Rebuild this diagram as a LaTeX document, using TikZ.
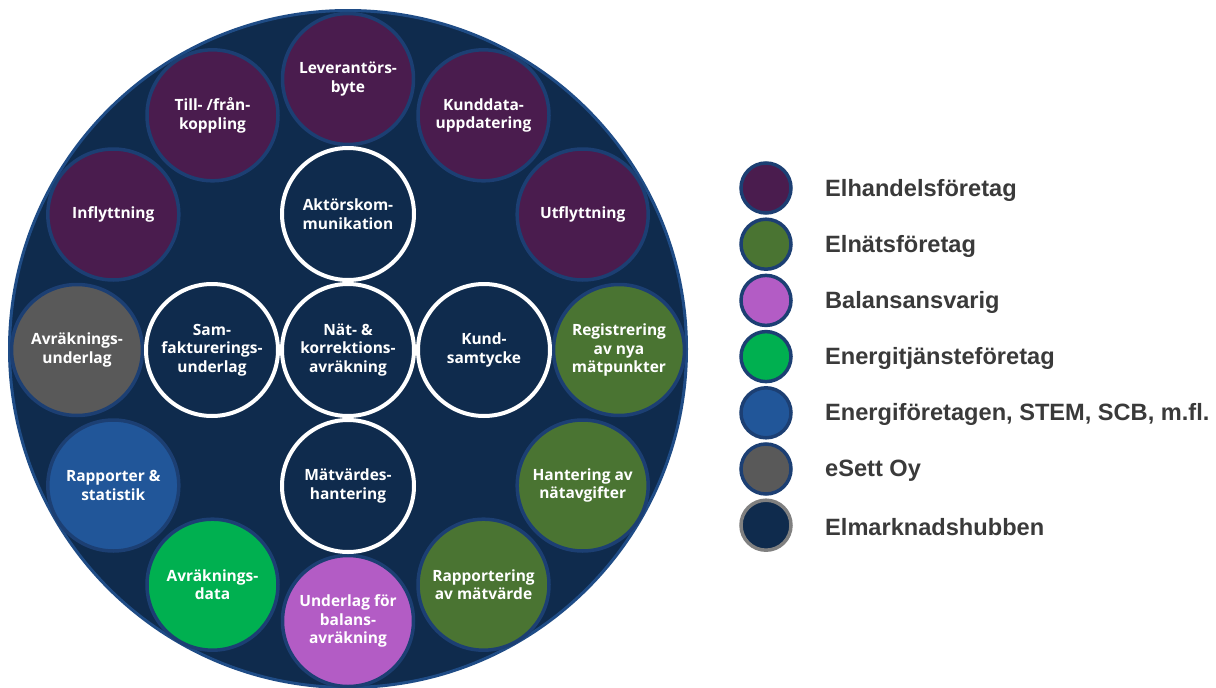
\documentclass[tikz,border=0pt]{standalone}
\usepackage{fontspec}
\setmainfont{Liberation Sans}
\newfontfamily\circfont{Open Sans}
\definecolor{hubfill}{HTML}{0F2B4D}
\definecolor{hubline}{HTML}{1F4C86}
\definecolor{ringline}{HTML}{1C3F73}
\definecolor{cpurple}{HTML}{4A1C4E}
\definecolor{cgreen}{HTML}{4A7432}
\definecolor{cmagenta}{HTML}{B35CC5}
\definecolor{cbright}{HTML}{00B050}
\definecolor{cblue}{HTML}{215699}
\definecolor{cgrey}{HTML}{595959}
\definecolor{legtext}{HTML}{3A3A3A}
\definecolor{leggrey}{HTML}{808080}
\tikzset{
  hub/.style={circle, fill=hubfill, draw=hubline, line width=3pt, minimum size=677pt, inner sep=0pt},
  outer/.style={circle, draw=ringline, line width=3.5pt, minimum size=131pt, inner sep=0pt,
    text=white, align=center, font=\circfont\bfseries\fontsize{15.5}{18.5}\selectfont},
  inner/.style={circle, fill=hubfill, draw=white, line width=4pt, minimum size=132pt, inner sep=0pt,
    text=white, align=center, font=\circfont\bfseries\fontsize{15.5}{18.5}\selectfont},
  legdot/.style={circle, draw=ringline, line width=3.5pt, minimum size=50pt, inner sep=0pt},
  legtxt/.style={anchor=west, yshift=-2pt, text=legtext, font=\bfseries\fontsize{23.6}{26}\selectfont, inner sep=0pt}
}
\begin{document}
\begin{tikzpicture}[x=1pt,y=-1pt]
\useasboundingbox (0,0) rectangle (1216,688);
\fill[white] (0,0) rectangle (1216,688);
\node[hub] (hub) at (348,349) {};
% outer ring
\node[outer, fill=cpurple] (lev) at (348,79) {Leverantörs-\\byte};
\node[outer, fill=cpurple] (kund) at (483.5,115.3) {Kunddata-\\uppdatering};
\node[outer, fill=cpurple] (utfl) at (582.7,214.5) {Utflyttning};
\node[outer, fill=cgreen] (reg) at (619,350) {Registrering\\av nya\\mätpunkter};
\node[outer, fill=cgreen] (hant) at (582.7,485.5) {Hantering av\\nätavgifter};
\node[outer, fill=cgreen] (rapm) at (483.5,584.7) {Rapportering\\av mätvärde};
\node[outer, fill=cmagenta] (bal) at (348,621) {Underlag för\\balans-\\avräkning};
\node[outer, fill=cbright] (avrd) at (212.5,584.7) {Avräknings-\\data};
\node[outer, fill=cblue] (rapst) at (113.3,485.5) {Rapporter \&\\statistik};
\node[outer, fill=cgrey] (avru) at (77,350) {Avräknings-\\underlag};
\node[outer, fill=cpurple] (infl) at (113.3,214.5) {Inflyttning};
\node[outer, fill=cpurple] (till) at (212.5,115.3) {Till- /från-\\koppling};
% inner cluster
\node[inner] (akt) at (348,214) {Aktörskom-\\munikation};
\node[inner] (sam) at (212,350) {Sam-\\fakturerings-\\underlag};
\node[inner] (kst) at (484,350) {Kund-\\samtycke};
\node[inner] (mat) at (348,486) {Mätvärdes-\\hantering};
\node[inner] (nat) at (348,350) {Nät- \&\\korrektions-\\avräkning};
% legend
\node[legdot, fill=cpurple] (l1) at (766,188) {};
\node[legdot, fill=cgreen] (l2) at (766,244.2) {};
\node[legdot, fill=cmagenta] (l3) at (766,300.4) {};
\node[legdot, fill=cbright] (l4) at (766,356.6) {};
\node[legdot, fill=cblue] (l5) at (766,412.8) {};
\node[legdot, fill=cgrey] (l6) at (766,469) {};
\node[legdot, fill=hubfill, draw=leggrey] (l7) at (766,525.2) {};
\node[legtxt] (t1) at (825,188) {Elhandelsföretag};
\node[legtxt] (t2) at (825,244.2) {Elnätsföretag};
\node[legtxt] (t3) at (825,300.4) {Balansansvarig};
\node[legtxt] (t4) at (825,356.6) {Energitjänsteföretag};
\node[legtxt] (t5) at (825,412.8) {Energiföretagen, STEM, SCB, m.fl.};
\node[legtxt] (t6) at (825,469) {eSett Oy};
\node[legtxt] (t7) at (825,525.2) {Elmarknadshubben};
\end{tikzpicture}
\end{document}
